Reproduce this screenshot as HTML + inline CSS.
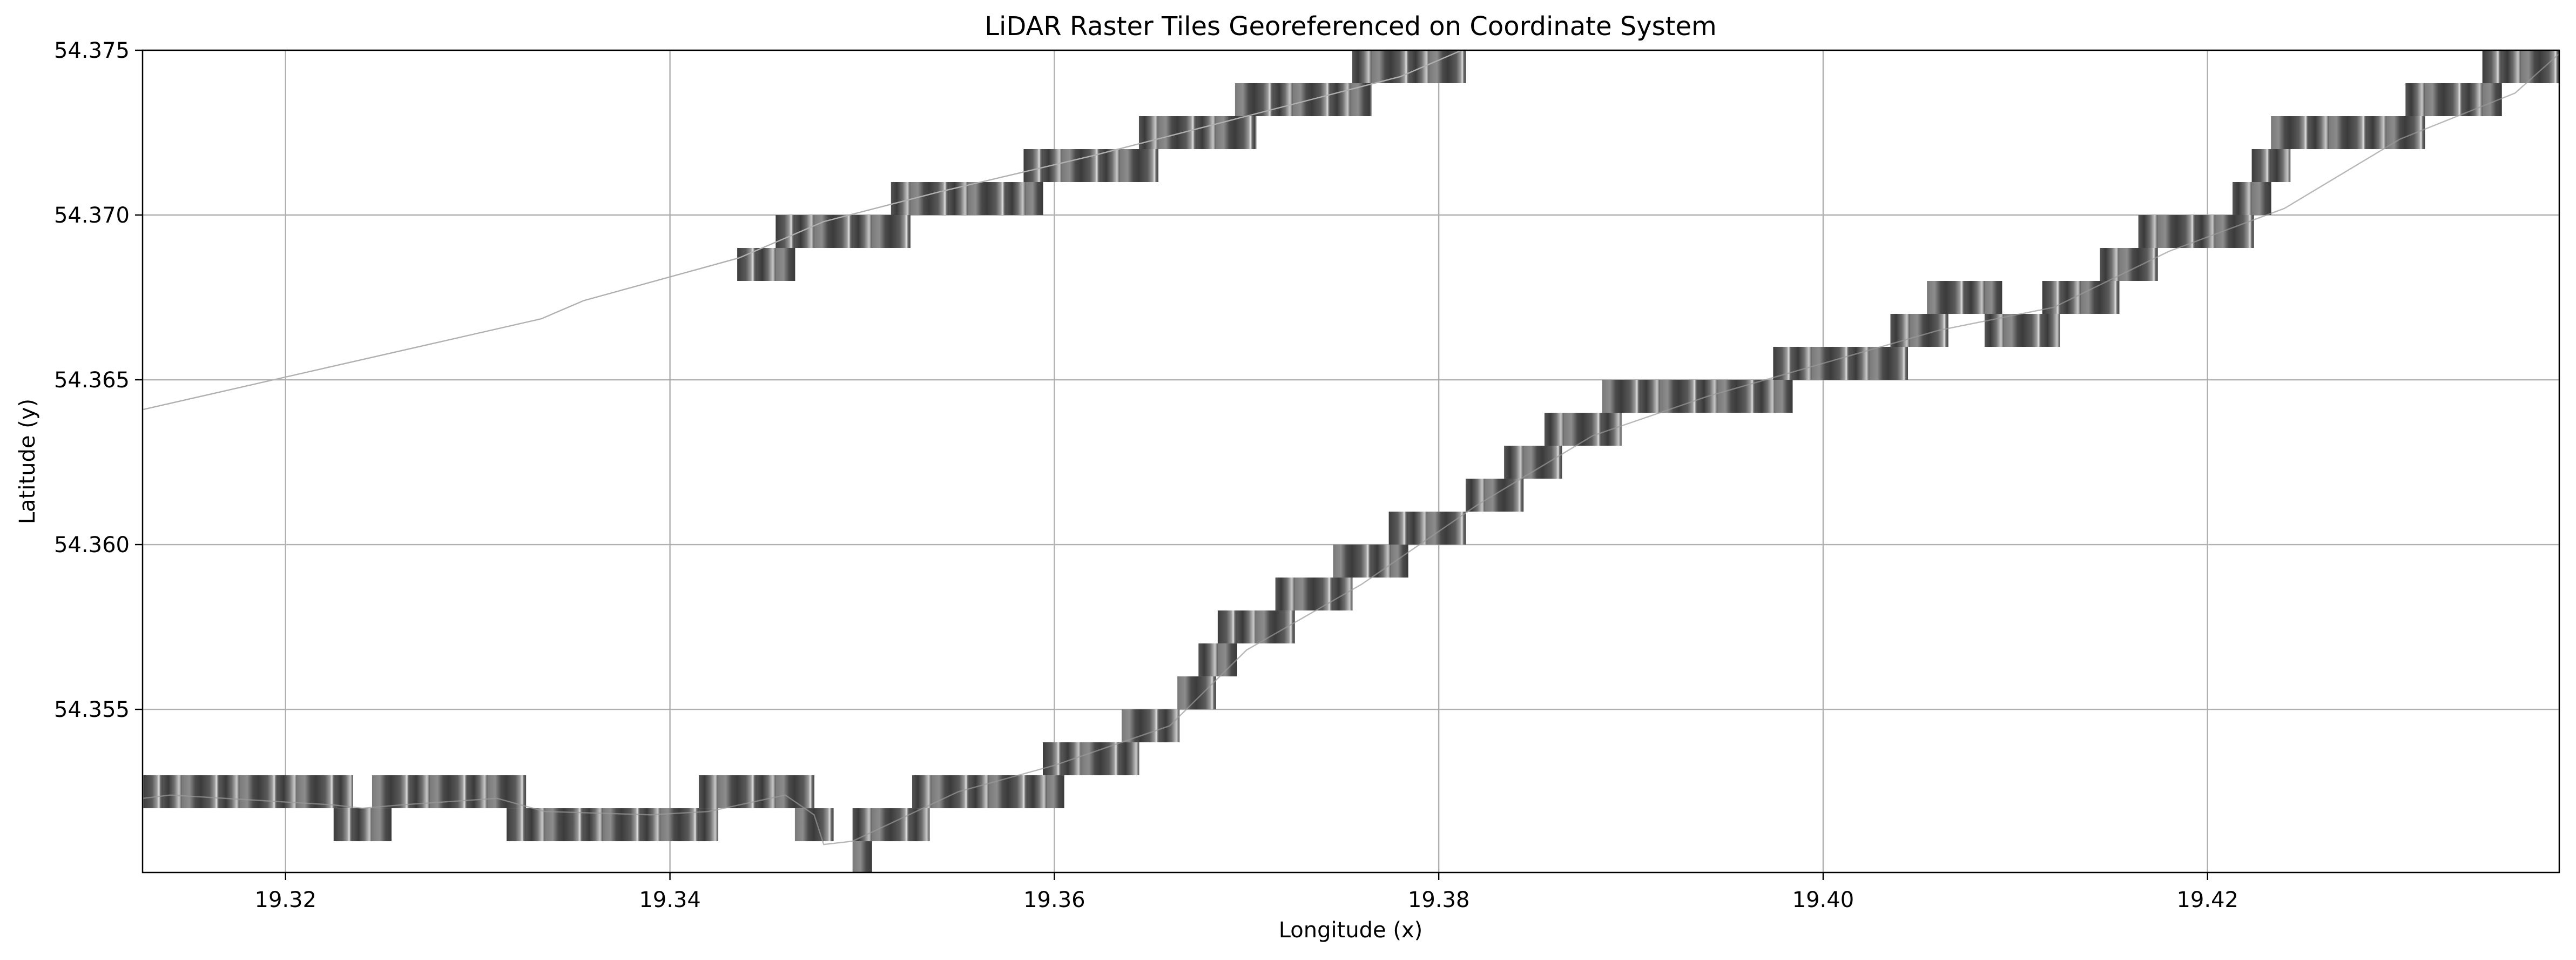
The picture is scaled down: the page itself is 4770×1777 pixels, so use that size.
<!DOCTYPE html>
<html><head><meta charset="utf-8">
<style>
html,body{margin:0;padding:0;background:#fff;}
svg{display:block;}
text{font-family:"DejaVu Sans","Liberation Sans",sans-serif;fill:#000;}
</style></head>
<body>
<svg id="chart" width="4770" height="1777" viewBox="0 0 4770 1777" xmlns="http://www.w3.org/2000/svg">
<defs>
<linearGradient id="tg0" x1="0" x2="1" y1="0" y2="0">
<stop offset="0" stop-color="#3c3c3c"/><stop offset="0.45" stop-color="#5a5a5a"/><stop offset="0.7" stop-color="#9a9a9a"/><stop offset="0.8" stop-color="#e0e0e0"/><stop offset="0.88" stop-color="#6a6a6a"/><stop offset="1" stop-color="#444"/>
</linearGradient>
<linearGradient id="tg1" x1="0" x2="1" y1="0" y2="0">
<stop offset="0" stop-color="#555"/><stop offset="0.3" stop-color="#3a3a3a"/><stop offset="0.6" stop-color="#6e6e6e"/><stop offset="0.85" stop-color="#c8c8c8"/><stop offset="1" stop-color="#505050"/>
</linearGradient>
<linearGradient id="tg2" x1="0" x2="1" y1="0" y2="0">
<stop offset="0" stop-color="#7a7a7a"/><stop offset="0.4" stop-color="#8c8c8c"/><stop offset="0.7" stop-color="#4a4a4a"/><stop offset="1" stop-color="#3a3a3a"/>
</linearGradient>
<clipPath id="plotclip"><rect x="264" y="93" width="4475" height="1522"/></clipPath>
</defs>
<g id="grid"></g>
<g id="tiles" clip-path="url(#plotclip)"></g>
<g id="track" clip-path="url(#plotclip)"></g>
<rect x="264" y="93" width="4475" height="1522" fill="none" stroke="#000" stroke-width="2.5"/>
<g id="axes"></g>
<text x="2501" y="65" font-size="48" text-anchor="middle">LiDAR Raster Tiles Georeferenced on Coordinate System</text>
<text x="2501" y="1735" font-size="40" text-anchor="middle">Longitude (x)</text>
<text x="64" y="854" font-size="40" text-anchor="middle" transform="rotate(-90 64 854)">Latitude (y)</text>
</svg>
<script>
const xTicks = [19.32, 19.34, 19.36, 19.38, 19.40, 19.42];
const xTickLabels = ["19.32", "19.34", "19.36", "19.38", "19.40", "19.42"];
const yTicks = [54.355, 54.360, 54.365, 54.370, 54.375];
const yTickLabels = ["54.355", "54.360", "54.365", "54.370", "54.375"];
// tile segments: lat bottom, lon start, lon end
const segLat = [54.352,54.352,54.352,54.352,54.351,54.351,54.351,54.351,54.350,
54.353,54.354,54.355,54.356,54.357,54.358,54.359,54.360,54.361,54.362,54.363,54.364,54.365,54.366,54.366,54.367,54.367,54.368,54.369,54.370,54.371,54.372,54.373,54.374,
54.368,54.369,54.370,54.371,54.372,54.373,54.374];
const segLon0 = [19.3126,19.3245,19.3415,19.3526,19.3225,19.3315,19.3465,19.3495,19.3495,
19.3594,19.3635,19.3664,19.3675,19.3685,19.3715,19.3745,19.3774,19.3814,19.3834,19.3855,19.3885,19.3974,19.4035,19.4084,19.4054,19.4114,19.4144,19.4164,19.4213,19.4223,19.4233,19.4303,19.4343,
19.3435,19.3455,19.3515,19.3584,19.3644,19.3694,19.3755];
const segLon1 = [19.3235,19.3325,19.3475,19.3605,19.3255,19.3425,19.3485,19.3535,19.3505,
19.3644,19.3665,19.3684,19.3695,19.3725,19.3755,19.3784,19.3814,19.3844,19.3864,19.3895,19.3984,19.4044,19.4065,19.4123,19.4093,19.4154,19.4174,19.4224,19.4233,19.4243,19.4313,19.4353,19.4400,
19.3465,19.3525,19.3594,19.3654,19.3705,19.3765,19.3814];
const trackLon = [19.3126,19.3333,19.3355,19.3436,19.3480,19.3540,19.3620,19.3700,19.3780,19.3820];
const trackLat = [54.3641,54.36685,54.3674,54.3687,54.3698,54.3707,54.3718,54.3730,54.3742,54.3752];
const lowLon = [19.3126,19.3140,19.3225,19.3240,19.3260,19.3310,19.3335,19.3390,19.3420,19.3460,19.3475,19.3480,19.3495,19.3550,19.3600,19.3660,19.3700,19.3760,19.3820,19.3880,19.3940,19.4000,19.4060,19.4120,19.4180,19.4240,19.4300,19.4360,19.4385];
const lowLat = [54.3523,54.3524,54.3521,54.3520,54.3521,54.3523,54.3519,54.3518,54.3519,54.3524,54.3518,54.3509,54.3510,54.3525,54.3533,54.3545,54.3568,54.3588,54.3612,54.3633,54.3645,54.3655,54.3665,54.3672,54.3689,54.3702,54.3723,54.3737,54.3750];

const X0=264, X1=4739, Y0=93, Y1=1615;
const lonMin=19.31256, lonMax=19.43830, latMin=54.35005, latMax=54.375;
const xs = v => X0 + (v-lonMin)/(lonMax-lonMin)*(X1-X0);
const ys = v => Y1 - (v-latMin)/(latMax-latMin)*(Y1-Y0);
const NS="http://www.w3.org/2000/svg";
function mk(tag, parent){const e=document.createElementNS(NS,tag);parent.appendChild(e);return e;}

const grid=document.getElementById('grid');
const axes=document.getElementById('axes');
xTicks.forEach((t,i)=>{
  const x=xs(t);
  const g=mk('line',grid);
  
  
  g.setAttribute('x1',x);g.setAttribute('x2',x);g.setAttribute('y1',Y0);g.setAttribute('y2',Y1);
  g.setAttribute('stroke','#b0b0b0');g.setAttribute('stroke-width','2.4');
  const tk=mk('line',axes);
  
  
  tk.setAttribute('x1',x);tk.setAttribute('x2',x);tk.setAttribute('y1',Y1);tk.setAttribute('y2',Y1+14);
  tk.setAttribute('stroke','#000');tk.setAttribute('stroke-width','2.4');
  const tx=mk('text',axes);
  
  
  tx.setAttribute('x',x);tx.setAttribute('y',Y1+64);tx.setAttribute('font-size','40');tx.setAttribute('text-anchor','middle');
  tx.textContent=xTickLabels[i];
});
yTicks.forEach((t,i)=>{
  const y=ys(t);
  const g=mk('line',grid);
  
  
  g.setAttribute('x1',X0);g.setAttribute('x2',X1);g.setAttribute('y1',y);g.setAttribute('y2',y);
  g.setAttribute('stroke','#b0b0b0');g.setAttribute('stroke-width','2.4');
  const tk=mk('line',axes);
  
  
  tk.setAttribute('x1',X0-14);tk.setAttribute('x2',X0);tk.setAttribute('y1',y);tk.setAttribute('y2',y);
  tk.setAttribute('stroke','#000');tk.setAttribute('stroke-width','2.4');
  const tx=mk('text',axes);
  
  
  tx.setAttribute('x',X0-24);tx.setAttribute('y',y+14);tx.setAttribute('font-size','40');tx.setAttribute('text-anchor','end');
  tx.textContent=yTickLabels[i];
});

const tiles=document.getElementById('tiles');
const step=0.001;
let k=0;
segLat.forEach((lat,i)=>{
  const y1=ys(lat+step), y2=ys(lat);
  const grp=mk('g',tiles);
  
  
  let lo=segLon0[i];
  while(lo < segLon1[i]-1e-6){
    const hi=Math.min(lo+step, segLon1[i]);
    const r=mk('rect',grp);
    
    
    r.setAttribute('x',xs(lo));r.setAttribute('y',y1);
    r.setAttribute('width',xs(hi)-xs(lo)+0.5);r.setAttribute('height',y2-y1);
    r.setAttribute('fill','url(#tg'+(k%3)+')');
    k++; lo=hi;
  }
});

const track=document.getElementById('track');
const p1=mk('polyline',track);


p1.setAttribute('points',trackLon.map((v,i)=>xs(v)+','+ys(trackLat[i])).join(' '));
p1.setAttribute('fill','none');p1.setAttribute('stroke','#b0b0b0');p1.setAttribute('stroke-width','2.4');
const p2=mk('polyline',track);


p2.setAttribute('points',lowLon.map((v,i)=>xs(v)+','+ys(lowLat[i])).join(' '));
p2.setAttribute('fill','none');p2.setAttribute('stroke','#9a9a9a');p2.setAttribute('stroke-width','2.4');p2.setAttribute('opacity','0.7');
</script>
</body></html>
